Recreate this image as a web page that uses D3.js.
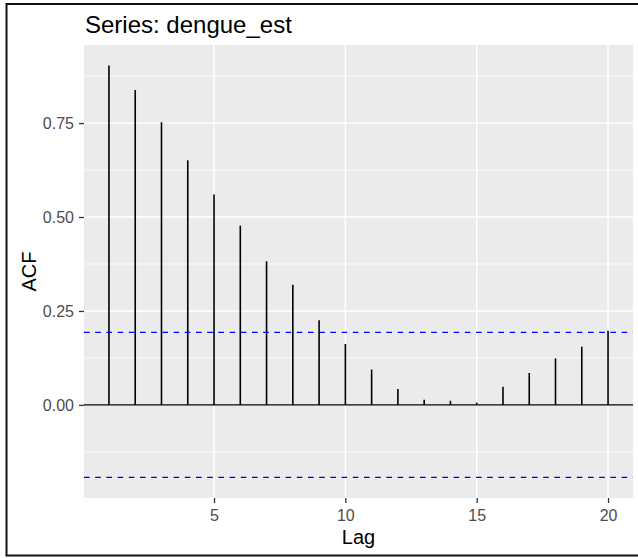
<!DOCTYPE html>
<html>
<head>
<meta charset="utf-8">
<script src="https://cdn.jsdelivr.net/npm/d3@7"></script>
<style>
  body { margin: 0; background: #fff; }
  svg { display: block; font-family: "Liberation Sans", Arial, sans-serif; }
</style>
</head>
<body>
<div id="chart"></div>
<script>
// acf of dengue_est
var lags = [1, 2, 3, 4, 5, 6, 7, 8, 9, 10, 11, 12, 13, 14, 15, 16, 17, 18, 19, 20];
var acfValues = [0.903, 0.838, 0.752, 0.651, 0.560, 0.477, 0.382, 0.320, 0.225, 0.162,
                 0.094, 0.042, 0.014, 0.011, 0.006, 0.048, 0.085, 0.124, 0.155, 0.197];
var ciLimit = 0.193;
var yTicks = [0, 0.25, 0.5, 0.75];
var yMinor = [-0.125, 0.125, 0.375, 0.625, 0.875];
var xTicks = [5, 10, 15, 20];
var seriesName = "dengue_est";

var data = lags.map(function(l, i) { return { lag: l, acf: acfValues[i] }; });

var width = 638, height = 558;
var panel = { left: 84, right: 633, top: 45, bottom: 498 };

var svg = d3.select("#chart").append("svg")
  .attr("width", width)
  .attr("height", height);

svg.append("rect").attr("width", width).attr("height", height).attr("fill", "#fff");

// padded range like ggplot (5% each side)
function padded(ext) {
  var d = (ext[1] - ext[0]) * 0.05;
  return [ext[0] - d, ext[1] + d];
}

var xScale = d3.scaleLinear()
  .domain(padded(d3.extent(lags)))
  .range([panel.left, panel.right]);

var yExt = d3.extent(acfValues.concat([ciLimit, -ciLimit]));
var yScale = d3.scaleLinear()
  .domain(padded(yExt))
  .range([panel.bottom, panel.top]);

// panel background
svg.append("rect")
  .attr("x", panel.left)
  .attr("y", panel.top)
  .attr("width", panel.right - panel.left)
  .attr("height", panel.bottom - panel.top)
  .attr("fill", "#EBEBEB");

var grid = svg.append("g");
grid.selectAll(".minor")
  .data(yMinor)
  .enter().append("line")
  .attr("x1", panel.left).attr("x2", panel.right)
  .attr("y1", function(d) { return yScale(d); })
  .attr("y2", function(d) { return yScale(d); })
  .attr("stroke", "#fff").attr("stroke-width", 0.8);

grid.selectAll(".majorY")
  .data(yTicks)
  .enter().append("line")
  .attr("x1", panel.left).attr("x2", panel.right)
  .attr("y1", function(d) { return yScale(d); })
  .attr("y2", function(d) { return yScale(d); })
  .attr("stroke", "#fff").attr("stroke-width", 1.4);

grid.selectAll(".majorX")
  .data(xTicks)
  .enter().append("line")
  .attr("y1", panel.top).attr("y2", panel.bottom)
  .attr("x1", function(d) { return xScale(d); })
  .attr("x2", function(d) { return xScale(d); })
  .attr("stroke", "#fff").attr("stroke-width", 1.4);

// zero line
svg.append("line")
  .attr("x1", panel.left).attr("x2", panel.right)
  .attr("y1", yScale(0)).attr("y2", yScale(0))
  .attr("stroke", "#000").attr("stroke-width", 1.3);

// acf spikes
svg.selectAll(".spike")
  .data(data)
  .enter().append("line")
  .attr("class", "spike")
  .attr("x1", function(d) { return xScale(d.lag); })
  .attr("x2", function(d) { return xScale(d.lag); })
  .attr("y1", yScale(0))
  .attr("y2", function(d) { return yScale(d.acf); })
  .attr("stroke", "#000").attr("stroke-width", 1.6);

// confidence limits
svg.selectAll(".ci")
  .data([ciLimit, -ciLimit])
  .enter().append("line")
  .attr("x1", panel.left).attr("x2", panel.right)
  .attr("y1", function(d) { return yScale(d); })
  .attr("y2", function(d) { return yScale(d); })
  .attr("stroke", "#0000FF").attr("stroke-width", 1.3)
  .attr("stroke-dasharray", "5.6,5.6");

// axes
var yAxis = svg.append("g")
  .attr("transform", "translate(" + panel.left + ",0)")
  .call(d3.axisLeft(yScale).tickValues(yTicks).tickFormat(d3.format(".2f")).tickSize(5).tickPadding(5));

var xAxis = svg.append("g")
  .attr("transform", "translate(0," + panel.bottom + ")")
  .call(d3.axisBottom(xScale).tickValues(xTicks).tickFormat(d3.format("d")).tickSize(5).tickPadding(7));

[yAxis, xAxis].forEach(function(ax) {
  ax.select(".domain").remove();
  ax.selectAll(".tick line").attr("stroke", "#333").attr("stroke-width", 1.3);
  ax.selectAll(".tick text")
    .attr("fill", "#4D4D4D")
    .style("font-size", "16px")
    .style("font-family", "'Liberation Sans', Arial, sans-serif");
});

// titles
svg.append("text")
  .attr("x", 85).attr("y", 33)
  .style("font-size", "24px")
  .attr("fill", "#000")
  .text("Series: " + seriesName);

svg.append("text")
  .attr("transform", "translate(35.5," + (panel.top + panel.bottom) / 2 + ") rotate(-90)")
  .attr("text-anchor", "middle")
  .style("font-size", "20px")
  .attr("fill", "#000")
  .text("ACF");

svg.append("text")
  .attr("x", (panel.left + panel.right) / 2).attr("y", 544)
  .attr("text-anchor", "middle")
  .style("font-size", "20px")
  .attr("fill", "#000")
  .text("Lag");

// outer frame of the screenshot
svg.append("rect")
  .attr("x", 6.5).attr("y", 4)
  .attr("width", 640).attr("height", 551.5)
  .attr("fill", "none")
  .attr("stroke", "#111").attr("stroke-width", 2);
</script>
</body>
</html>
